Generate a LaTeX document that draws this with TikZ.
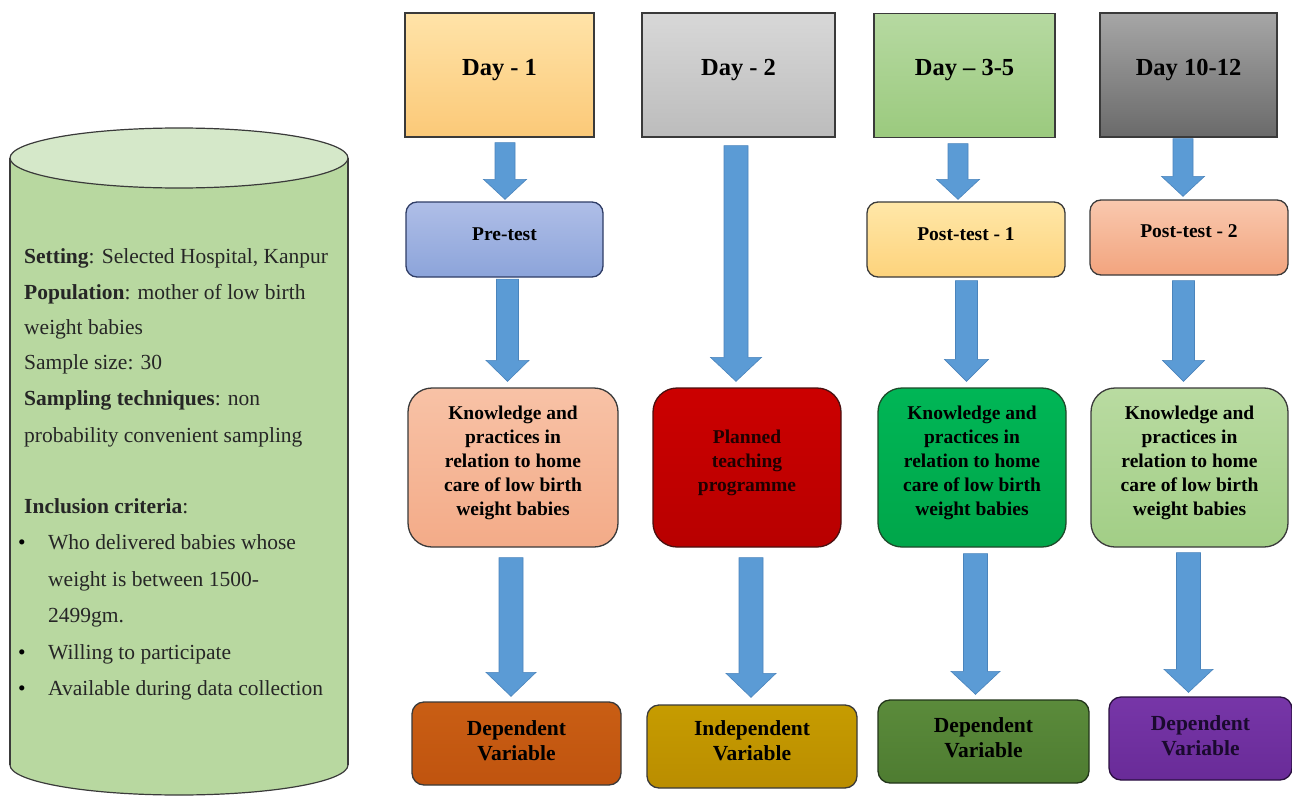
\documentclass[tikz,border=0pt]{standalone}
\usepackage{fontspec}
\setmainfont{Liberation Serif}
\usetikzlibrary{calc}
\definecolor{arrowblue}{HTML}{5B9BD5}
\definecolor{arrowedge}{HTML}{4A84BC}
\definecolor{edgegray}{HTML}{3A3A3A}
\definecolor{cylbody}{HTML}{B8D8A0}
\definecolor{cyltop}{HTML}{D5E8C9}
\definecolor{dayAt}{HTML}{FFE3A8}\definecolor{dayAb}{HTML}{FBC978}
\definecolor{dayBt}{HTML}{D8D8D8}\definecolor{dayBb}{HTML}{BCBCBC}
\definecolor{dayCt}{HTML}{B6D9A1}\definecolor{dayCb}{HTML}{9BCA7E}
\definecolor{dayDt}{HTML}{A6A6A6}\definecolor{dayDb}{HTML}{6A6A6A}
\definecolor{preE}{HTML}{2F3D66}\definecolor{preT}{HTML}{AFBEE7}\definecolor{preB}{HTML}{8CA4DA}
\definecolor{postAt}{HTML}{FFE7A8}\definecolor{postAb}{HTML}{FDD37C}
\definecolor{postBt}{HTML}{F9C8AE}\definecolor{postBb}{HTML}{F2A47E}
\definecolor{kAt}{HTML}{F8C2A6}\definecolor{kAb}{HTML}{F3AB88}
\definecolor{planE}{HTML}{4A1010}\definecolor{planT}{HTML}{CC0000}\definecolor{planB}{HTML}{B80000}\definecolor{planTx}{HTML}{200000}
\definecolor{kCe}{HTML}{1E4A2A}\definecolor{kCt}{HTML}{00B656}\definecolor{kCb}{HTML}{00A64A}
\definecolor{kDt}{HTML}{B9DBA1}\definecolor{kDb}{HTML}{A2CE86}
\definecolor{vAt}{HTML}{C95E14}\definecolor{vAb}{HTML}{C0540F}
\definecolor{vBt}{HTML}{C69C00}\definecolor{vBb}{HTML}{BA8D00}
\definecolor{vCe}{HTML}{22351A}\definecolor{vCt}{HTML}{5B8B3B}\definecolor{vCb}{HTML}{4E7C31}
\definecolor{vDe}{HTML}{2A1040}\definecolor{vDt}{HTML}{7736A8}\definecolor{vDb}{HTML}{692B98}\definecolor{vDtx}{HTML}{1A0A2E}
\tikzset{
  sqbox/.style={draw=edgegray, line width=1.3pt, inner sep=0pt, minimum height=124pt},
  testbox/.style={draw=edgegray, line width=1.3pt, inner sep=0pt, rounded corners=11pt, minimum height=75pt},
  knowbox/.style={draw=edgegray, line width=1.3pt, inner sep=0pt, rounded corners=24pt, minimum height=159pt},
  varbox/.style={draw=edgegray, line width=1.3pt, inner sep=0pt, rounded corners=12pt, minimum height=83pt},
  daytxt/.style={font=\fontsize{24.5}{28}\selectfont\bfseries, text=black, inner sep=0pt},
  testtxt/.style={font=\fontsize{19.5}{24}\selectfont\bfseries, text=black, inner sep=0pt},
  knowtxt/.style={font=\fontsize{19.5}{24}\selectfont\bfseries, text=black, align=center, inner sep=0pt},
  vartxt/.style={font=\fontsize{21.5}{25}\selectfont\bfseries, text=black, align=center, inner sep=0pt},
  cyltxt/.style={font=\fontsize{21.5}{26}\selectfont, text=black!85, anchor=base west, inner sep=0pt},
  bul/.style={font=\fontsize{21.5}{26}\selectfont, text=black, anchor=base, inner sep=0pt},
  barrowstyle/.style={fill=arrowblue, draw=arrowedge, line width=0.6pt}
}
% block arrow: start, end, half shaft, half head, head length
\newcommand{\barrow}[5]{%
  \path[barrowstyle] let \p1=#1, \p2=#2 in
    (\x1-#3,\y1) -- (\x1+#3,\y1) -- (\x1+#3,\y2+#5) -- (\x1+#4,\y2+#5)
    -- (\x1,\y2) -- (\x1-#4,\y2+#5) -- (\x1-#3,\y2+#5) -- cycle;}
\begin{document}
\begin{tikzpicture}[x=1pt,y=-1pt]
\useasboundingbox (0,0) rectangle (1292,797);
\fill[white] (0,0) rectangle (1292,797);

% ---------- cylinder ----------
\path[fill=cylbody, draw=edgegray, line width=1.2pt]
  (10,158) -- (10,765) arc[start angle=180, end angle=360, x radius=169, y radius=-30]
  -- (348,158);
\draw[edgegray, line width=1.2pt] (10,158) -- (10,765);
\draw[edgegray, line width=1.2pt] (348,158) -- (348,765);
\path[fill=cyltop, draw=edgegray, line width=1.2pt] (179,158) ellipse[x radius=169, y radius=30];

\node[cyltxt] (c1) at (24,263.5) {\textbf{Setting}: Selected Hospital, Kanpur};
\node[cyltxt] (c2) at (24,299.5) {\textbf{Population}: mother of low birth};
\node[cyltxt] (c3) at (24,334.5) {weight babies};
\node[cyltxt] (c4) at (24,369.5) {Sample size: 30};
\node[cyltxt] (c5) at (24,405.5) {\textbf{Sampling techniques}: non};
\node[cyltxt] (c6) at (24,442.5) {probability convenient sampling};
\node[cyltxt] (c7) at (24,513.5) {\textbf{Inclusion criteria}:};
\node[bul] (b1) at (22,549.5) {\textbullet};
\node[cyltxt] (c8) at (48,549.5) {Who delivered babies whose};
\node[cyltxt] (c9) at (48,586.5) {weight is between 1500-};
\node[cyltxt] (c10) at (48,622.5) {2499gm.};
\node[bul] (b2) at (22,659.5) {\textbullet};
\node[cyltxt] (c11) at (48,659.5) {Willing to participate};
\node[bul] (b3) at (22,695.5) {\textbullet};
\node[cyltxt] (c12) at (48,695.5) {Available during data collection};

% ---------- day boxes ----------
\node[sqbox, top color=dayAt, bottom color=dayAb, minimum width=189pt] (day1) at (499.5,75) {};
\node[sqbox, top color=dayBt, bottom color=dayBb, minimum width=193pt] (day2) at (738.5,75) {};
\node[sqbox, top color=dayCt, bottom color=dayCb, minimum width=181pt] (day3) at (964.5,75.5) {};
\node[sqbox, top color=dayDt, bottom color=dayDb, minimum width=177pt] (day4) at (1188.5,75) {};
\node[daytxt] (day1t) at ($(day1)+(0,-5)$) {Day - 1};
\node[daytxt] (day2t) at ($(day2)+(0,-5)$) {Day - 2};
\node[daytxt] (day3t) at ($(day3)+(0,-5)$) {Day – 3-5};
\node[daytxt] (day4t) at ($(day4)+(0,-5)$) {Day 10-12};

% ---------- test boxes ----------
\node[testbox, draw=preE, top color=preT, bottom color=preB, minimum width=197pt] (pre) at (504.5,239.5) {};
\node[testbox, top color=postAt, bottom color=postAb, minimum width=198pt] (post1) at (966,239.5) {};
\node[testbox, top color=postBt, bottom color=postBb, minimum width=198pt] (post2) at (1189,237.5) {};
\node[testtxt] (pret) at ($(pre)+(0,-5)$) {Pre-test};
\node[testtxt] (post1t) at ($(post1)+(0,-5)$) {Post-test - 1};
\node[testtxt] (post2t) at ($(post2)+(0,-6)$) {Post-test - 2};

% ---------- knowledge / programme boxes ----------
\node[knowbox, top color=kAt, bottom color=kAb, minimum width=210pt] (k1) at (513,467.5) {};
\node[knowbox, draw=planE, top color=planT, bottom color=planB, minimum width=188pt] (plan) at (747,467.5) {};
\node[knowbox, draw=kCe, top color=kCt, bottom color=kCb, minimum width=188pt] (k3) at (972,467.5) {};
\node[knowbox, top color=kDt, bottom color=kDb, minimum width=197pt] (k4) at (1189.5,467.5) {};
\node[knowtxt] (k1t) at ($(k1)+(0,-5)$) {Knowledge and\\practices in\\relation to home\\care of low birth\\weight babies};
\node[knowtxt, text=planTx] (plant) at ($(plan)+(0,-5)$) {Planned\\teaching\\programme};
\node[knowtxt] (k3t) at ($(k3)+(0,-5)$) {Knowledge and\\practices in\\relation to home\\care of low birth\\weight babies};
\node[knowtxt] (k4t) at ($(k4)+(0,-5)$) {Knowledge and\\practices in\\relation to home\\care of low birth\\weight babies};

% ---------- variable boxes ----------
\node[varbox, top color=vAt, bottom color=vAb, minimum width=209pt] (d1) at (516.5,743.5) {};
\node[varbox, top color=vBt, bottom color=vBb, minimum width=210pt] (ind) at (752,746.5) {};
\node[varbox, draw=vCe, top color=vCt, bottom color=vCb, minimum width=211pt] (d3) at (983.5,741.5) {};
\node[varbox, draw=vDe, top color=vDt, bottom color=vDb, minimum width=183pt] (d4) at (1200.5,738.5) {};
\node[vartxt] (d1t) at ($(d1)+(0,-3)$) {Dependent\\Variable};
\node[vartxt] (indt) at ($(ind)+(0,-6)$) {Independent\\Variable};
\node[vartxt] (d3t) at ($(d3)+(0,-4)$) {Dependent\\Variable};
\node[vartxt, text=vDtx] (d4t) at ($(d4)+(0,-3)$) {Dependent\\Variable};

% ---------- block arrows ----------
\barrow{($(day1.south)+(5.5,5)$)}{($(pre.north)+(0.5,-2)$)}{10pt}{21.5pt}{20pt}
\barrow{($(day2.south)+(-2.5,8)$)}{($(plan.north)+(-11,-6)$)}{12pt}{25.5pt}{24pt}
\barrow{($(day3.south)+(-6.5,5.5)$)}{($(post1.north)+(-8,-2)$)}{10pt}{21.5pt}{20pt}
\barrow{($(day4.south)+(-5.5,1)$)}{($(post2.north)+(-6,-3)$)}{10pt}{21.5pt}{20pt}
\barrow{($(pre.south)+(3,1.5)$)}{($(k1.north)+(-5.5,-6)$)}{11pt}{21.5pt}{21pt}
\barrow{($(post1.south)+(0.5,3)$)}{($(k3.north)+(-5.5,-6)$)}{11pt}{22pt}{22pt}
\barrow{($(post2.south)+(-5.5,5)$)}{($(k4.north)+(-6,-6)$)}{11pt}{21pt}{21pt}
\barrow{($(k1.south)+(-2,10)$)}{($(d1.north)+(-5.5,-5)$)}{12pt}{25pt}{24pt}
\barrow{($(plan.south)+(4,10)$)}{($(ind.north)+(-1,-7)$)}{12pt}{25pt}{24pt}
\barrow{($(k3.south)+(3.5,6)$)}{($(d3.north)+(-8,-5)$)}{12pt}{24.5pt}{23pt}
\barrow{($(k4.south)+(-1,5)$)}{($(d4.north)+(-12,-4)$)}{12pt}{24.5pt}{23pt}
\end{tikzpicture}
\end{document}
